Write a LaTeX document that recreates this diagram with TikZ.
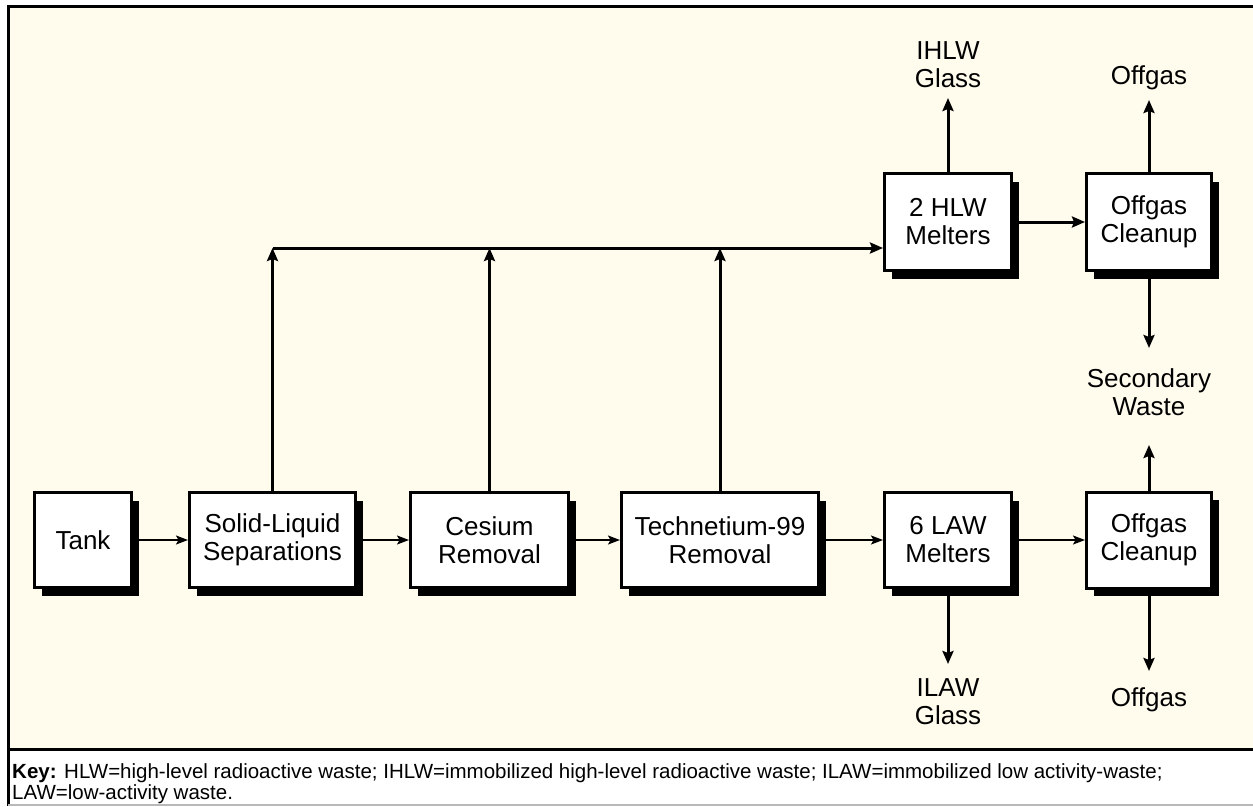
\documentclass[tikz,border=0pt]{standalone}
\usepackage{fontspec}
\setmainfont{Liberation Sans}
\usetikzlibrary{arrows.meta,shadows}
\definecolor{cream}{RGB}{255,252,238}
\begin{document}
\begin{tikzpicture}[x=1pt,y=-1pt,
  procbox/.style={draw=black, line width=3pt, fill=white, align=center, inner sep=0pt,
    font=\fontsize{26}{28}\selectfont,
    drop shadow={shadow xshift=7pt, shadow yshift=-8pt, fill=black, opacity=1}},
  lbl/.style={align=center, font=\fontsize{26}{28}\selectfont, inner sep=0pt},
  flow/.style={line width=1.5pt, -{Stealth[length=12pt,width=9pt,inset=2.5pt]}},
  bigflow/.style={line width=3pt, -{Stealth[length=13pt,width=11pt,inset=2pt]}},
]
\useasboundingbox (0,0) rectangle (1253,806);
\fill[white] (0,0) rectangle (1253,806);
\fill[cream] (8,6) rectangle (1253,749);
\draw[line width=3pt] (8,806) -- (8,6) -- (1253,6);
\draw[line width=3pt] (8,749) -- (1253,749);
\draw[gray!55, line width=1.5pt] (8,805) -- (1253,805);

% process boxes
\node[procbox, minimum width=97pt, minimum height=95pt] (tank) at (83,540) {Tank};
\node[procbox, minimum width=166pt, minimum height=95pt] (sls) at (272.5,540) {Solid-Liquid\\Separations};
\node[procbox, minimum width=158pt, minimum height=95pt] (ces) at (489.5,540) {Cesium\\Removal};
\node[procbox, minimum width=197pt, minimum height=95pt] (tc) at (720,540) {Technetium-99\\Removal};
\node[procbox, minimum width=127pt, minimum height=95pt] (law) at (948,540) {6 LAW\\Melters};
\node[procbox, minimum width=125pt, minimum height=96pt] (offl) at (1149,540) {Offgas\\Cleanup};
\node[procbox, minimum width=127pt, minimum height=97pt] (hlw) at (948,222) {2 HLW\\Melters};
\node[procbox, minimum width=125pt, minimum height=97pt] (offu) at (1149,222) {Offgas\\Cleanup};

% labels
\node[lbl] (ihlw) at (948,65) {IHLW\\Glass};
\node[lbl] (offgasT) at (1149,77.5) {Offgas};
\node[lbl] (secw) at (1149,392.5) {Secondary\\Waste};
\node[lbl] (ilaw) at (948,702) {ILAW\\Glass};
\node[lbl] (offgasB) at (1149,700) {Offgas};

% arrow tip coordinates
\coordinate (bus) at (0,248);
\coordinate (ihlwTip) at (948,98);
\coordinate (offTTip) at (1149,100);
\coordinate (secDown) at (1149,348);
\coordinate (secUp) at (1149,445);
\coordinate (ilawTip) at (948,664);
\coordinate (offBTip) at (1149,671);

% lower row flows
\draw[flow] (tank) -- (sls);
\draw[flow] (sls) -- (ces);
\draw[flow] (ces) -- (tc);
\draw[flow] (tc) -- (law);
\draw[flow] (law) -- (offl);

% bus to HLW melters
\draw[bigflow] (sls.north) -- (sls.north |- bus);
\draw[bigflow] (ces.north) -- (ces.north |- bus);
\draw[bigflow] (tc.north) -- (tc.north |- bus);
\draw[bigflow] (sls.north |- bus) -- (hlw.west |- bus);
\draw[bigflow] (hlw) -- (offu);

% outputs
\draw[bigflow] (hlw.north) -- (ihlwTip);
\draw[bigflow] (offu.north) -- (offTTip);
\draw[bigflow] (offu.south) -- (secDown);
\draw[bigflow] (offl.north) -- (secUp);
\draw[bigflow] (law.south) -- (ilawTip);
\draw[bigflow] (offl.south) -- (offBTip);

% key
\node[anchor=north west, align=left, inner sep=0pt, font=\fontsize{20.5}{21}\selectfont] (key) at (12,763)
 {\textbf{Key:} HLW=high-level radioactive waste; IHLW=immobilized high-level radioactive waste; ILAW=immobilized low activity-waste;\\LAW=low-activity waste.};
\end{tikzpicture}
\end{document}
